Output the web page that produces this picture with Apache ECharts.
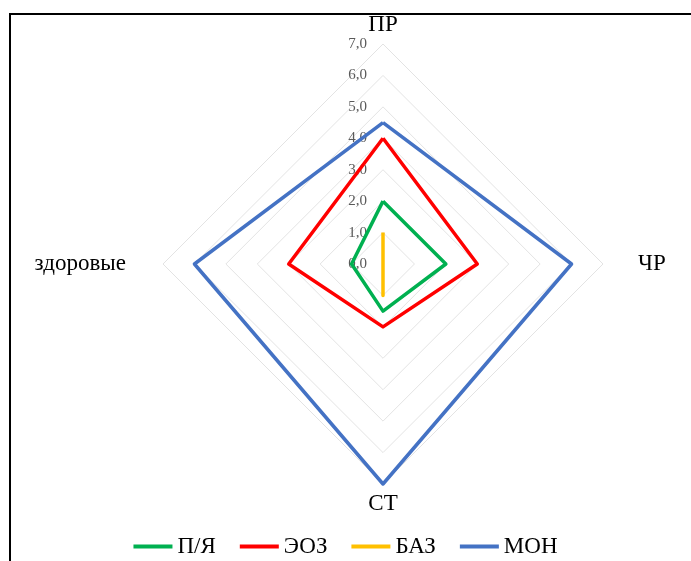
<!DOCTYPE html>
<html>
<head>
<meta charset="utf-8">
<script src="https://cdn.jsdelivr.net/npm/echarts@6/dist/echarts.min.js"></script>
<style>
html,body{margin:0;padding:0;background:#fff;}
#frame{position:absolute;left:9px;top:13px;width:682px;height:548px;border-top:2px solid #000;border-left:2px solid #000;box-sizing:border-box;}
#chart{position:absolute;left:0;top:0;width:691px;height:561px;}
</style>
</head>
<body>
<div id="frame"></div>
<div id="chart"></div>
<script>
// categories in ECharts radar order (top, then counter-clockwise)
var categories = ['ПР', 'здоровые', 'СТ', 'ЧР'];
var seriesNames = ['П/Я', 'ЭОЗ', 'БАЗ', 'МОН'];
var valuesPYa = [2.0, 1.0, 1.5, 2.0];
var valuesEOZ = [4.0, 3.0, 2.0, 3.0];
var valuesBAZ = [1.0, 0.0, 1.0, 0.0];
var valuesMON = [4.5, 6.0, 7.0, 6.0];
var axisMax = 7;
var colors = ['#00B050', '#FF0000', '#FFC000', '#4472C4'];
var nameGaps = [1, 37, 8, 35];

var allValues = [valuesPYa, valuesEOZ, valuesBAZ, valuesMON];

var chart = echarts.init(document.getElementById('chart'), null, {renderer: 'canvas'});
var serif = '"Liberation Serif", "DejaVu Serif", serif';

var indicators = categories.map(function (c, i) {
  var ind = {name: c, max: axisMax, min: 0, nameGap: nameGaps[i]};
  if (i === 0) ind.axisLabel = {show: true};
  return ind;
});

chart.setOption({
  animation: false,
  backgroundColor: 'transparent',
  legend: {
    top: 530,
    left: 'center',
    icon: 'rect',
    itemWidth: 39,
    itemHeight: 4,
    itemGap: 24,
    textStyle: {fontFamily: serif, fontSize: 23, color: '#000'},
    data: seriesNames
  },
  radar: {
    center: [383, 264],
    radius: 220,
    startAngle: 90,
    shape: 'polygon',
    splitNumber: 7,
    indicator: indicators,
    axisName: {color: '#000', fontFamily: serif, fontSize: 23},
    axisLine: {show: false},
    axisTick: {show: false},
    splitArea: {show: false},
    splitLine: {lineStyle: {color: '#e3e3e3', width: 1}},
    axisLabel: {
      show: false,
      color: '#595959',
      fontFamily: serif,
      fontSize: 15,
      margin: 16,
      formatter: function (v) { return v.toFixed(1).replace('.', ','); }
    }
  },
  series: [{
    type: 'radar',
    symbol: 'none',
    data: seriesNames.map(function (n, i) {
      return {
        name: n,
        value: allValues[i],
        lineStyle: {color: colors[i], width: 3.5},
        itemStyle: {color: colors[i]}
      };
    })
  }]
});
</script>
</body>
</html>
